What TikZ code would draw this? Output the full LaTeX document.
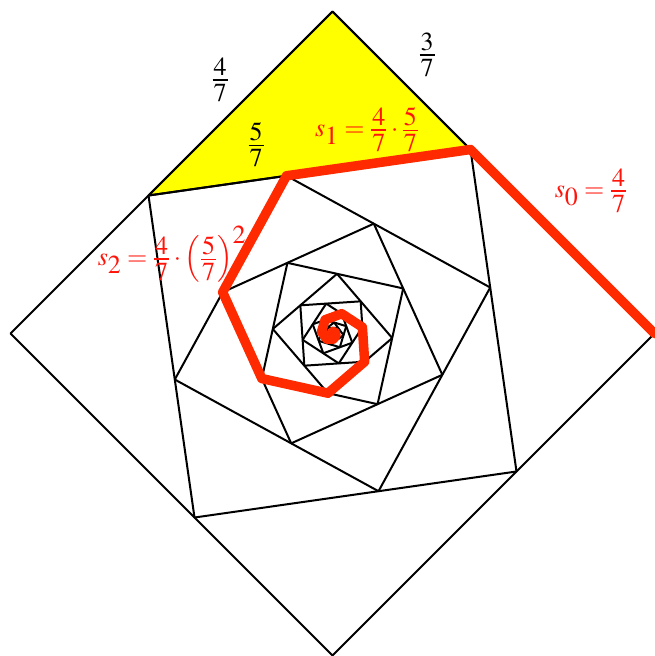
\documentclass[tikz,border=0pt]{standalone}
\usepackage{mathptmx}
\usetikzlibrary{calc}
\definecolor{spiralred}{RGB}{255,42,0}
\definecolor{labred}{RGB}{255,20,10}
\definecolor{triyellow}{RGB}{255,255,0}
\newcommand\myfr[2]{\mathord{\kern1pt\vcenter{\offinterlineskip\halign{\hfil\kern1pt##\kern1pt\hfil\cr$#1$\cr\noalign{\kern3.5pt\hrule height1.5pt\kern3.5pt}$#2$\cr}}\kern1pt}}
\newcommand\mysub[1]{_{\hbox{$#1$}}}
\newcommand\mysup[1]{^{\hbox{$#1$}}}
\begin{document}
\begin{tikzpicture}[x=1pt,y=-1pt,
  sq/.style={draw=black,line width=2pt,line join=round},
  tri/.style={fill=triyellow,draw=black,line width=2pt,line join=round},
  spiral/.style={draw=spiralred,line width=9.5pt,line join=round,line cap=round},
  lab/.style={inner sep=0pt,font=\fontsize{26}{31}\selectfont},
  rlab/.style={lab,text=labred}]
\useasboundingbox (0,0) rectangle (655,656);
\coordinate (p0-0) at (332.5,11.5);
\coordinate (p0-1) at (654.5,333.5);
\coordinate (p0-2) at (332.5,655.5);
\coordinate (p0-3) at (10.5,333.5);
\foreach \k [evaluate=\k as \n using int(\k+1)] in {0,...,15} {
  \coordinate (p\n-0) at ($(p\k-0)!3/7!(p\k-1)$);
  \coordinate (p\n-1) at ($(p\k-1)!3/7!(p\k-2)$);
  \coordinate (p\n-2) at ($(p\k-2)!3/7!(p\k-3)$);
  \coordinate (p\n-3) at ($(p\k-3)!3/7!(p\k-0)$);
}
\draw[tri] (p0-0) -- (p1-0) -- (p1-3) -- cycle;
\foreach \k in {0,...,16} {
  \draw[sq] (p\k-0) -- (p\k-1) -- (p\k-2) -- (p\k-3) -- cycle;
}
\draw[spiral] (p0-1) \foreach \k [evaluate=\k as \i using {int(mod(17-\k,4))}] in {1,...,16} { -- (p\k-\i) };
\node[lab] (f47) at (220,80) {$\myfr{4}{7}$};
\node[lab] (f37) at (427,55) {$\myfr{3}{7}$};
\node[lab] (f57) at (256,145) {$\myfr{5}{7}$};
\node[rlab] (s1) at (367,130) {$s\mysub{1}=\myfr{4}{7}\cdot\myfr{5}{7}$};
\node[rlab] (s0) at (591,191) {$s\mysub{0}=\myfr{4}{7}$};
\node[rlab] (s2) at (172,254) {$s\mysub{2}=\myfr{4}{7}\cdot\left(\myfr{5}{7}\right)\mysup{2}$};
\end{tikzpicture}
\end{document}
